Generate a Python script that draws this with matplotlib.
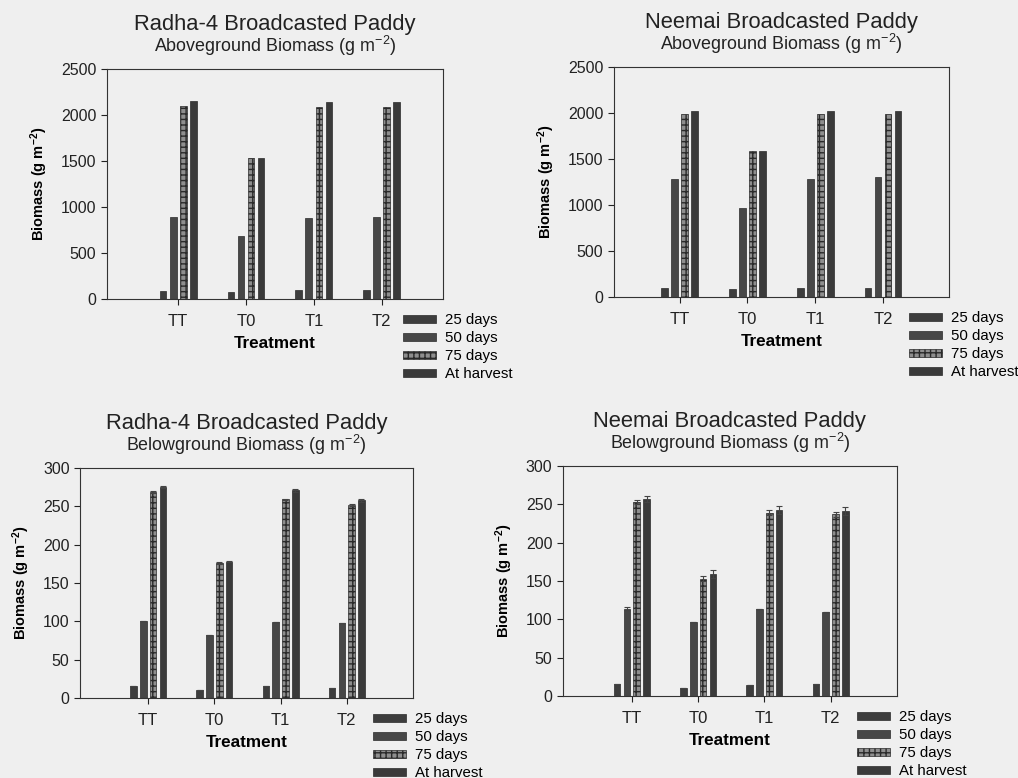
import numpy as np
import matplotlib.pyplot as plt

plt.rcParams['font.family'] = ['Liberation Sans', 'DejaVu Sans']
plt.rcParams['mathtext.default'] = 'regular'

treatments = ['TT', 'T0', 'T1', 'T2']
stages = ['25 days', '50 days', '75 days', 'At harvest']

# aboveground biomass (g m-2), rows = stages, cols = treatments
radha_above = [
    [90, 76, 94, 94],
    [886, 684, 879, 886],
    [2098, 1530, 2091, 2091],
    [2156, 1538, 2145, 2145],
]
neemai_above = [
    [94, 91, 101, 101],
    [1286, 971, 1286, 1301],
    [1993, 1583, 1993, 1993],
    [2022, 1587, 2022, 2022],
]

# belowground biomass (g m-2)
radha_below = [
    [15.7, 10.5, 15.7, 13.5],
    [101, 82, 99, 98],
    [269, 176, 259, 252],
    [275, 178, 271, 258],
]
radha_below_err = [
    [0, 0, 0, 0],
    [0, 0, 0, 0],
    [1, 1, 1, 1],
    [1, 1, 2, 2],
]
neemai_below = [
    [16, 11, 14, 16],
    [114, 97, 113, 110],
    [253, 153, 239, 237],
    [257, 159, 243, 241],
]
neemai_below_err = [
    [0, 0, 0, 0],
    [2, 0, 0, 0],
    [3, 3, 3, 3],
    [4, 5, 5, 5],
]

bar_colors = ['#3d3d3d', '#474747', '#8e8e8e', '#3a3a3a']
bar_hatch = [None, None, '+++', None]

panels = [
    # (axes rect, variety, part, data, err, ymax, step, xlim)
    ([0.105, 0.6157, 0.330, 0.2956], 'Radha-4', 'Aboveground', radha_above, None, 2500, 500, (-1.05, 3.9)),
    ([0.603, 0.6183, 0.329, 0.2956], 'Neemai', 'Aboveground', neemai_above, None, 2500, 500, (-0.97, 3.97)),
    ([0.0786, 0.1028, 0.327, 0.2956], 'Radha-4', 'Belowground', radha_below, radha_below_err, 300, 50, (-1.03, 4.0)),
    ([0.553, 0.1054, 0.328, 0.2956], 'Neemai', 'Belowground', neemai_below, neemai_below_err, 300, 50, (-1.04, 4.0)),
]

fig = plt.figure(figsize=(10.18, 7.78), dpi=100)
fig.patch.set_facecolor('#efefef')

x = np.arange(len(treatments))
step_w = 0.148
bar_w = 0.10

for rect, variety, part, data, err, ymax, step, xlim in panels:
    ax = fig.add_axes(rect)
    ax.set_facecolor('#efefef')
    for i, stage in enumerate(stages):
        kw = {}
        if err is not None:
            kw = dict(yerr=err[i], capsize=2, error_kw=dict(elinewidth=0.8, ecolor='#444444', capthick=0.8))
        ax.bar(x + (i - 1.5) * step_w, data[i], width=bar_w, color=bar_colors[i],
               hatch=bar_hatch[i], edgecolor='#2a2a2a', linewidth=0.5, label=stage, **kw)
    ax.set_xlim(*xlim)
    ax.set_ylim(0, ymax)
    ax.set_yticks(np.arange(0, ymax + 1, step))
    ax.set_xticks(x)
    ax.set_xticklabels(treatments)
    ax.tick_params(axis='both', direction='out', length=4, width=0.8, labelsize=11.5, colors='#222222')
    ax.tick_params(axis='x', labelsize=12, pad=7)
    for s in ax.spines.values():
        s.set_linewidth(0.8)
        s.set_color('#333333')
    ax.set_ylabel('Biomass (g m$^{-2}$)', fontsize=10.5, fontweight='bold', labelpad=8)
    ax.set_xlabel('Treatment', fontsize=12.3, fontweight='bold', labelpad=5)
    ax.text(0.5, 1.195, variety + ' Broadcasted Paddy', transform=ax.transAxes,
            ha='center', va='center', fontsize=15.8, color='#222222')
    ax.text(0.5, 1.10, part + ' Biomass (g m$^{-2}$)', transform=ax.transAxes,
            ha='center', va='center', fontsize=12.9, color='#222222')
    ax.legend(loc='upper left', bbox_to_anchor=(0.88, -0.062), frameon=False,
              fontsize=10.8, handlelength=2.2, handleheight=0.45, handletextpad=0.6,
              labelspacing=0.26, borderpad=0, borderaxespad=0)

fig.savefig('out.png', dpi=100, facecolor=fig.get_facecolor())
